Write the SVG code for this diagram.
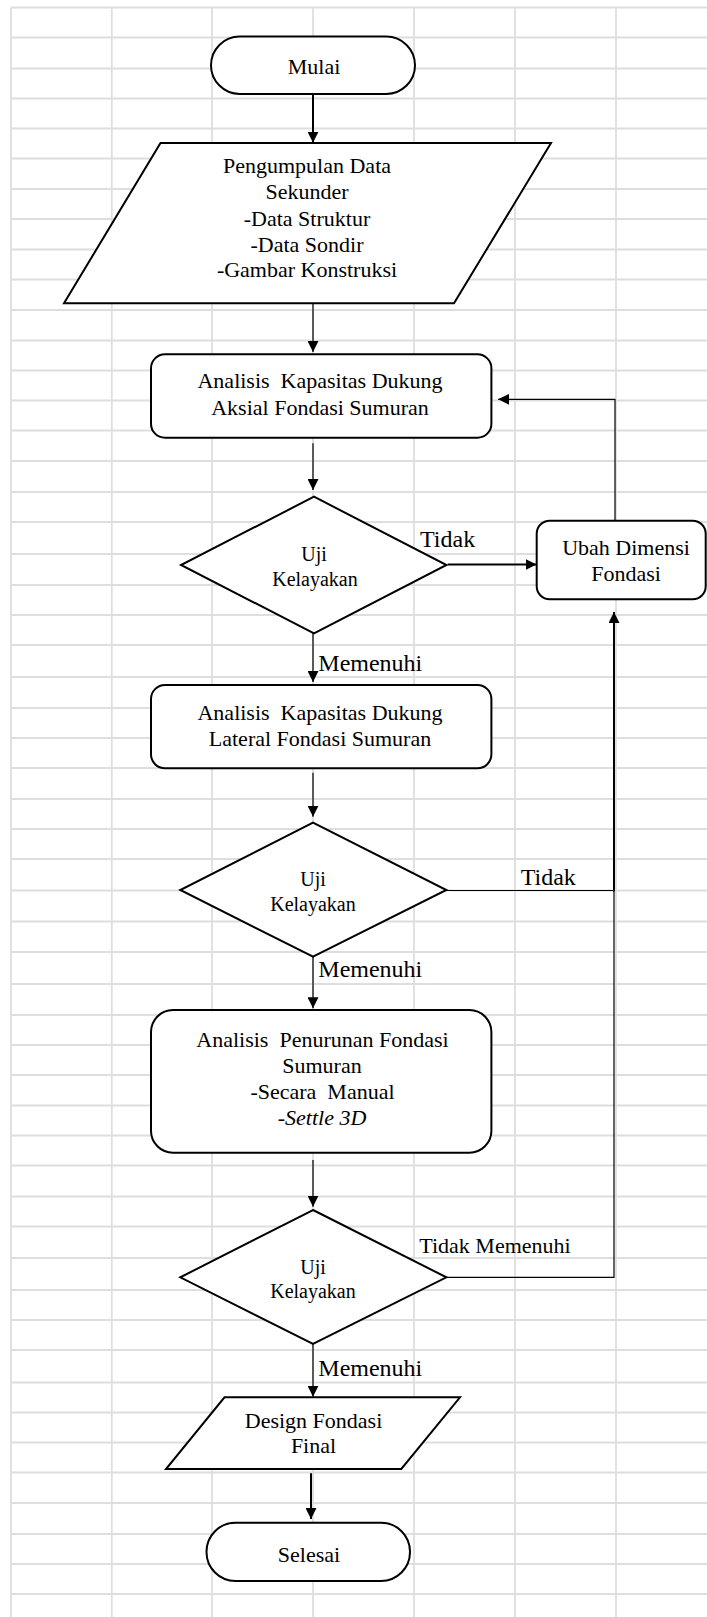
<svg xmlns="http://www.w3.org/2000/svg" width="707" height="1617" viewBox="0 0 707 1617">
<style>
.grid{stroke:#dedede;stroke-width:1.8;fill:none}
.shape{fill:#fff;stroke:#000;stroke-width:2}
.t{font-family:"Liberation Serif","Times New Roman",serif;font-size:22px;fill:#000;text-anchor:middle}
.d{font-size:20px}
.lbl{font-family:"Liberation Serif","Times New Roman",serif;font-size:24px;fill:#000}
.lbl.s{font-size:22px}
.thin{stroke:#000;stroke-width:1.2;fill:none}
.thick{stroke:#000;stroke-width:2;fill:none}
</style>
<defs>
<marker id="ah" markerUnits="userSpaceOnUse" markerWidth="11" markerHeight="11" refX="11" refY="5.5" orient="auto">
<path d="M0,0 L11,5.5 L0,11 z" fill="#000"/>
</marker>
</defs>
<rect x="0" y="0" width="707" height="1617" fill="#fff"/>
<g id="grid">
<path class="grid" d="M11,7.5V1617 M111.8,7.5V1617 M212,7.5V1617 M313,7.5V1617 M414,7.5V1617 M515,7.5V1617 M616,7.5V1617
M11,7.5H707 M11,37.5H707 M11,68.5H707 M11,98.5H707 M11,128.5H707 M11,158.5H707 M11,189H707 M11,219H707 M11,249.5H707 M11,279.5H707
M11,310H707 M11,340.5H707 M11,370.5H707 M11,400.5H707 M11,430.5H707 M11,461H707 M11,492H707 M11,522H707 M11,554H707 M11,585H707
M11,615H707 M11,645H707 M11,677H707 M11,708H707 M11,738H707 M11,768H707 M11,799H707 M11,829H707 M11,859H707 M11,890.5H707
M11,921.5H707 M11,952H707 M11,984H707 M11,1015H707 M11,1045H707 M11,1075H707 M11,1105.5H707 M11,1135.5H707 M11,1165.5H707 M11,1196.5H707
M11,1226.5H707 M11,1258H707 M11,1290H707 M11,1320H707 M11,1350H707 M11,1382.5H707 M11,1412.5H707 M11,1442.5H707 M11,1472.5H707 M11,1503H707
M11,1534H707 M11,1564H707 M11,1594H707"/>
</g>
<g id="connectors">
<path class="thick" d="M313,94V142.7" marker-end="url(#ah)"/>
<path class="thin" d="M313,303.3V352" marker-end="url(#ah)"/>
<path class="thin" d="M313,443.3V490" marker-end="url(#ah)"/>
<path class="thin" d="M313,633.3V682" marker-end="url(#ah)"/>
<path class="thin" d="M313,772.7V816.7" marker-end="url(#ah)"/>
<path class="thin" d="M313,956.7V1008.3" marker-end="url(#ah)"/>
<path class="thin" d="M313,1160V1206.7" marker-end="url(#ah)"/>
<path class="thin" d="M313,1344V1396.7" marker-end="url(#ah)"/>
<path class="thick" d="M311,1473.3V1519" marker-end="url(#ah)"/>
<path class="thick" d="M447.7,564.5H536.5" marker-end="url(#ah)"/>
<path class="thin" d="M615,520.7V399.3H498.2" marker-end="url(#ah)"/>
<path class="thin" d="M446.4,890.5H614"/>
<path class="thick" d="M614,891.5V612" marker-end="url(#ah)"/>
<path class="thin" d="M446.4,1277.3H614V890.5"/>
</g>
<g id="n-mulai">
<rect class="shape" x="211" y="36.5" width="204" height="57.5" rx="28.75"/>
<text class="t" x="314" y="74">Mulai</text>
</g>
<g id="n-data">
<polygon class="shape" points="160.5,143 551,143 454,303.3 64,303.3"/>
<text class="t" x="307" y="173.3">Pengumpulan Data</text>
<text class="t" x="307" y="199.3">Sekunder</text>
<text class="t" x="307" y="225.5">-Data Struktur</text>
<text class="t" x="307" y="251.5">-Data Sondir</text>
<text class="t" x="307" y="277.3">-Gambar Konstruksi</text>
</g>
<g id="n-aksial">
<rect class="shape" x="151" y="354.3" width="340.4" height="83.4" rx="14"/>
<text class="t" x="320" y="388.3" xml:space="preserve">Analisis  Kapasitas Dukung</text>
<text class="t" x="320" y="415">Aksial Fondasi Sumuran</text>
</g>
<g id="n-uji1">
<polygon class="shape" points="314,496.7 446.5,565 314,633.3 181,565"/>
<text class="t d" x="314" y="561">Uji</text>
<text class="t d" x="315" y="586">Kelayakan</text>
</g>
<g id="n-ubah">
<rect class="shape" x="536.7" y="520.7" width="169" height="78.6" rx="13"/>
<text class="t" x="626" y="555">Ubah Dimensi</text>
<text class="t" x="626" y="580.5">Fondasi</text>
</g>
<g id="n-lateral">
<rect class="shape" x="151" y="685" width="340.4" height="83.3" rx="14"/>
<text class="t" x="320" y="720" xml:space="preserve">Analisis  Kapasitas Dukung</text>
<text class="t" x="320" y="746">Lateral Fondasi Sumuran</text>
</g>
<g id="n-uji2">
<polygon class="shape" points="313,822.7 446.4,890 313,956.7 180.3,890"/>
<text class="t d" x="313" y="886">Uji</text>
<text class="t d" x="313" y="910.5">Kelayakan</text>
</g>
<g id="n-penurunan">
<rect class="shape" x="151" y="1010" width="340.4" height="142.7" rx="22"/>
<text class="t" x="322.5" y="1047.3" xml:space="preserve">Analisis  Penurunan Fondasi</text>
<text class="t" x="322" y="1073.3">Sumuran</text>
<text class="t" x="322.5" y="1099.3" xml:space="preserve">-Secara  Manual</text>
<text class="t" x="322" y="1125">-<tspan font-style="italic">Settle 3D</tspan></text>
</g>
<g id="n-uji3">
<polygon class="shape" points="313,1210 446.4,1277.3 313,1344 180.3,1277.3"/>
<text class="t d" x="313" y="1274">Uji</text>
<text class="t d" x="313" y="1298">Kelayakan</text>
</g>
<g id="n-design">
<polygon class="shape" points="224.5,1397.3 460,1397.3 401.3,1469 166,1469"/>
<text class="t" x="313.5" y="1427.7">Design Fondasi</text>
<text class="t" x="313.5" y="1453.3">Final</text>
</g>
<g id="n-selesai">
<rect class="shape" x="206.5" y="1522.7" width="203.5" height="58.3" rx="29"/>
<text class="t" x="309" y="1561.7">Selesai</text>
</g>
<g id="labels">
<text class="lbl" x="420" y="547">Tidak</text>
<text class="lbl" x="318.3" y="670.7">Memenuhi</text>
<text class="lbl" x="520.7" y="885">Tidak</text>
<text class="lbl" x="318.3" y="977.3">Memenuhi</text>
<text class="lbl s" x="419.3" y="1252.7">Tidak Memenuhi</text>
<text class="lbl" x="318.3" y="1376">Memenuhi</text>
</g>
</svg>
